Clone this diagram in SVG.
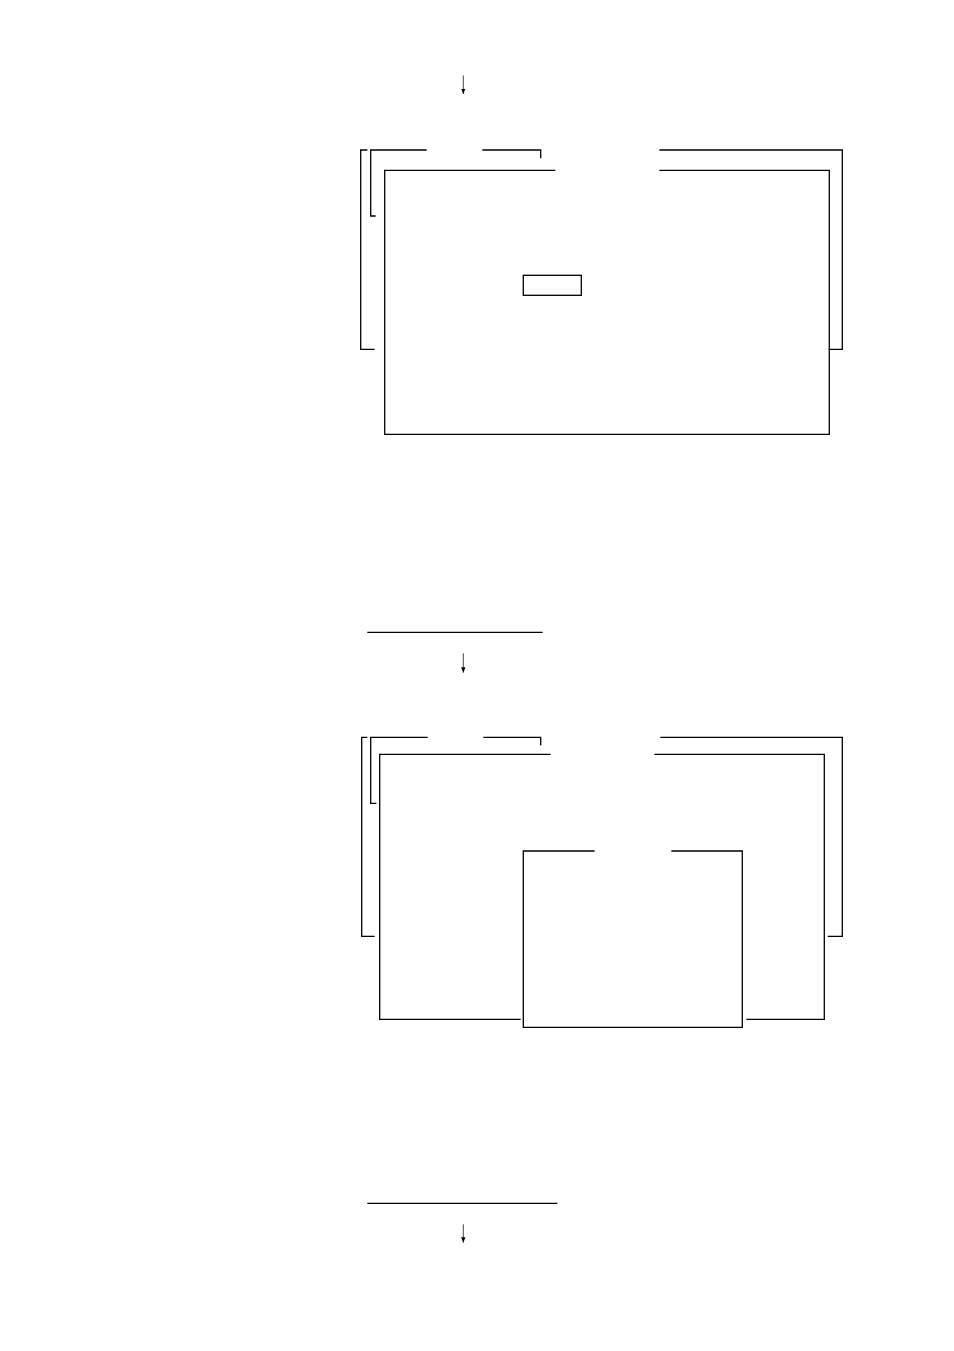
<svg xmlns="http://www.w3.org/2000/svg" width="954" height="1351" viewBox="0 0 954 1351">
<style>
.ln{fill:none;stroke:#000;stroke-width:1.3;stroke-linecap:square}
.ar{fill:none;stroke:#333;stroke-width:0.9}
</style>
<defs>
<marker id="ah" markerWidth="6" markerHeight="6" refX="5.5" refY="3" orient="auto" markerUnits="userSpaceOnUse" viewBox="0 0 6 6">
<path d="M0,0.8 L0,5.2 L5.5,3 Z" fill="#000"/>
</marker>
</defs>
<rect width="954" height="1351" fill="#fff"/>
<g id="connectors">
<line class="ar" x1="463.3" y1="75.5" x2="463.3" y2="94" marker-end="url(#ah)"/>
<line class="ar" x1="463.3" y1="653.3" x2="463.3" y2="672.7" marker-end="url(#ah)"/>
<line class="ar" x1="463.3" y1="1224.3" x2="463.3" y2="1242.7" marker-end="url(#ah)"/>
</g>
<g id="frame1">
<path class="ln" d="M366.7,150 H360.7 V349.3 H374"/>
<path class="ln" d="M426,150 H370.7 V216 H375"/>
<path class="ln" d="M483,150 H540.7 V157.7"/>
<path class="ln" d="M660,150 H842.3 V349.3 H829.3"/>
<path class="ln" d="M554.7,170.3 H384.7 V434.3 H829.3 V170.3 H660"/>
<rect class="ln" x="523.3" y="275.3" width="58" height="20"/>
</g>
<g id="sep1">
<line class="ln" x1="368" y1="632.3" x2="542" y2="632.3"/>
</g>
<g id="frame2">
<path class="ln" d="M366.7,737.3 H361.7 V936.3 H374"/>
<path class="ln" d="M427,737.3 H370.7 V803.3 H375.7"/>
<path class="ln" d="M484,737.3 H540.7 V744.7"/>
<path class="ln" d="M661,737.3 H842.3 V936.3 H828.3"/>
<path class="ln" d="M550,754.3 H379.7 V1019.3 H520"/>
<path class="ln" d="M655,754.3 H824.3 V1019.3 H747"/>
<path class="ln" d="M594,851 H523.3 V1027.3 H742.3 V851 H672"/>
</g>
<g id="sep2">
<line class="ln" x1="368" y1="1203.3" x2="556.7" y2="1203.3"/>
</g>
</svg>
